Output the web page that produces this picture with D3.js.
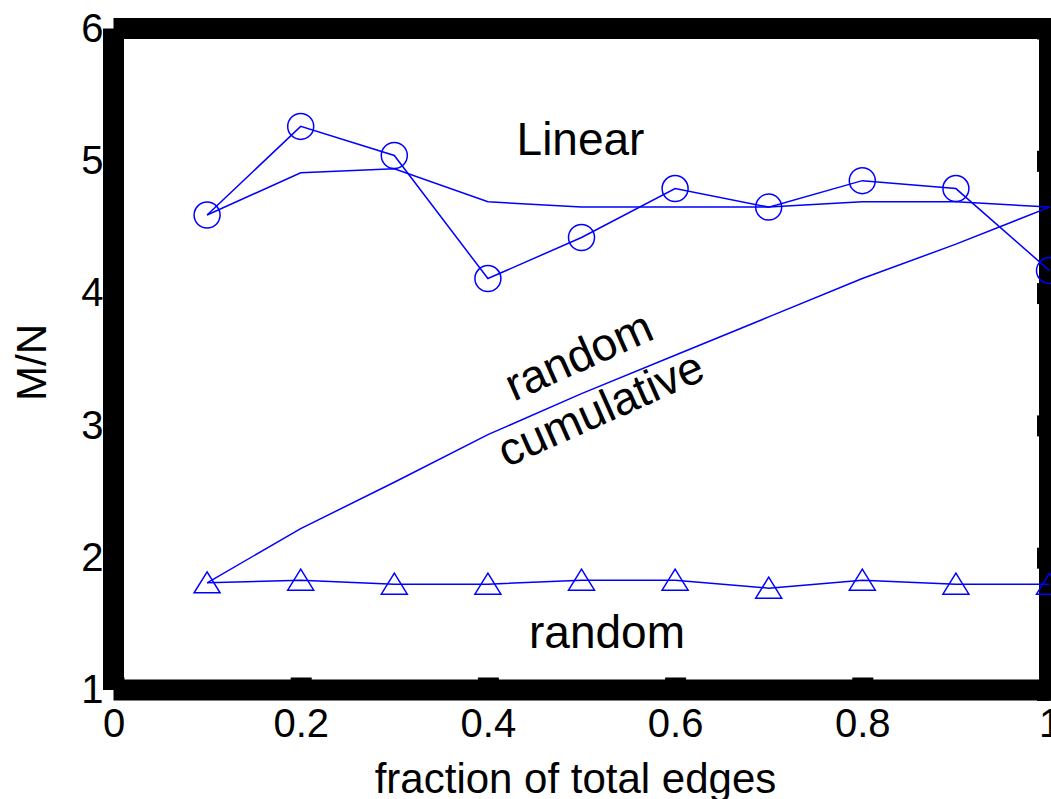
<!DOCTYPE html>
<html>
<head>
<meta charset="utf-8">
<script src="https://cdn.jsdelivr.net/npm/d3@7"></script>
<style>
  body { margin: 0; background: #fff; }
  text { font-family: "Liberation Sans", Arial, Helvetica, sans-serif; fill: #000; }
</style>
</head>
<body>
<div class="chart"></div>
<script>
// data
const fractions = [0.1, 0.2, 0.3, 0.4, 0.5, 0.6, 0.7, 0.8, 0.9, 1.0];
const linearVals    = [4.59, 5.26, 5.04, 4.11, 4.42, 4.79, 4.65, 4.85, 4.79, 4.17];
const linearCumVals = [4.59, 4.91, 4.94, 4.69, 4.65, 4.65, 4.65, 4.69, 4.69, 4.65];
const randomVals    = [1.81, 1.83, 1.80, 1.80, 1.83, 1.83, 1.77, 1.83, 1.80, 1.80];
const randomCumVals = [1.81, 2.22, 2.57, 2.93, 3.24, 3.53, 3.82, 4.11, 4.37, 4.65];
const xTicks = [0, 0.2, 0.4, 0.6, 0.8, 1];
const xTickLabels = ["0", "0.2", "0.4", "0.6", "0.8", "1"];
const yTicks = [1, 2, 3, 4, 5, 6];

const width = 1051, height = 799;
const blue = "#0000ff";
const frameW = 21;

const svg = d3.select(".chart").append("svg")
    .attr("width", width)
    .attr("height", height);

// scales
const xScale = d3.scaleLinear().domain([0, 1]).range([113.5, 1049.5]);
const yScale = d3.scaleLinear().domain([1, 6]).range([690, 28.5]);

// thick frame (butt caps give the notched corners)
const frame = svg.append("g").attr("stroke", "#000").attr("stroke-width", frameW).attr("stroke-linecap", "butt");
frame.append("line")
    .attr("x1", xScale(0)).attr("x2", xScale(1) + frameW / 2)
    .attr("y1", yScale(6)).attr("y2", yScale(6));
frame.append("line")
    .attr("x1", xScale(0)).attr("x2", xScale(0))
    .attr("y1", yScale(6)).attr("y2", yScale(1));
frame.append("line")
    .attr("x1", xScale(0)).attr("x2", xScale(1) + frameW / 2)
    .attr("y1", yScale(1)).attr("y2", yScale(1));
frame.append("line")
    .attr("x1", xScale(1)).attr("x2", xScale(1))
    .attr("y1", yScale(6) - frameW / 2).attr("y2", yScale(1) + frameW / 2);

// axes
const xAxis = d3.axisBottom(xScale)
    .tickValues(xTicks)
    .tickFormat((d, i) => xTickLabels[i])
    .tickSizeInner(-12.5).tickSizeOuter(0).tickPadding(19);
const xAxisG = svg.append("g")
    .attr("class", "axis x-axis")
    .attr("transform", `translate(0, ${yScale(1)})`)
    .call(xAxis);

const yAxis = d3.axisLeft(yScale)
    .tickValues(yTicks)
    .tickFormat(d3.format("d"))
    .tickSize(0).tickPadding(10);
const yAxisG = svg.append("g")
    .attr("class", "axis y-axis")
    .attr("transform", `translate(${xScale(0)}, 0)`)
    .call(yAxis);

const yAxisRight = d3.axisRight(yScale)
    .tickValues(yTicks)
    .tickFormat("")
    .tickSizeInner(-12.5).tickSizeOuter(0);
const yAxisRightG = svg.append("g")
    .attr("class", "axis y-axis-right")
    .attr("transform", `translate(${xScale(1)}, 0)`)
    .call(yAxisRight);

svg.selectAll(".axis .domain").remove();
svg.selectAll(".axis line").attr("stroke", "#000").attr("stroke-width", frameW);
svg.selectAll(".y-axis line").remove();
svg.selectAll(".axis text")
    .attr("font-size", 40)
    .attr("font-family", "'Liberation Sans', Arial, sans-serif")
    .attr("fill", "#000");

// axis titles
svg.append("text")
    .attr("x", 575.5).attr("y", 793)
    .attr("text-anchor", "middle")
    .attr("font-size", 42)
    .text("fraction of total edges");

svg.append("text")
    .attr("transform", "translate(46, 362.5) rotate(-90)")
    .attr("text-anchor", "middle")
    .attr("font-size", 42)
    .text("M/N");

// series
const line = d3.line()
    .x((d, i) => xScale(fractions[i]))
    .y(d => yScale(d));

const plot = svg.append("g").attr("fill", "none").attr("stroke", blue).attr("stroke-width", 1.5);

[linearVals, linearCumVals, randomVals, randomCumVals].forEach(vals => {
    plot.append("path").datum(vals).attr("d", line);
});

// circle markers
plot.selectAll("circle")
    .data(linearVals)
    .join("circle")
    .attr("cx", (d, i) => xScale(fractions[i]))
    .attr("cy", d => yScale(d))
    .attr("r", 13);

// triangle markers, centred on their bounding box
const tri = d3.line()([[0, -11], [13, 10], [-13, 10]]) + "Z";
plot.selectAll(".tri")
    .data(randomVals)
    .join("path")
    .attr("class", "tri")
    .attr("d", tri)
    .attr("transform", (d, i) => `translate(${xScale(fractions[i])}, ${yScale(d)})`);

// labels in the plot
svg.append("text")
    .attr("x", 580.5).attr("y", 155)
    .attr("text-anchor", "middle")
    .attr("font-size", 46)
    .text("Linear");

svg.append("text")
    .attr("x", 607).attr("y", 648)
    .attr("text-anchor", "middle")
    .attr("font-size", 46)
    .text("random");

svg.append("text")
    .attr("transform", "translate(585, 370) rotate(-24)")
    .attr("text-anchor", "middle")
    .attr("font-size", 46)
    .text("random");

svg.append("text")
    .attr("transform", "translate(607, 423) rotate(-24)")
    .attr("text-anchor", "middle")
    .attr("font-size", 46)
    .text("cumulative");
</script>
</body>
</html>
